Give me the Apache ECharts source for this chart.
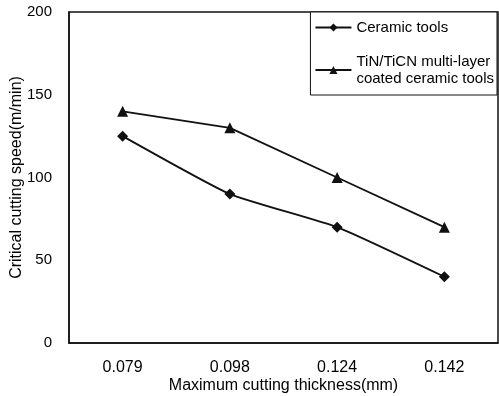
<!DOCTYPE html>
<html>
<head>
<meta charset="utf-8">
<script src="https://cdn.jsdelivr.net/npm/echarts@6/dist/echarts.min.js"></script>
<style>
  html, body { margin: 0; padding: 0; background: #fff; }
  #p1 { width: 499px; height: 396px; }
</style>
</head>
<body>
<div id="p1"></div>
<script>
var categories = ['0.079', '0.098', '0.124', '0.142'];
var ceramic = [125, 90, 70, 40];
var coated = [140, 130, 100, 70];
var yTicks = [0, 50, 100, 150, 200];

var myChart1 = echarts.init(document.getElementById('p1'));
var option1 = {
    backgroundColor: '#fff',
    textStyle: { fontFamily: 'Liberation Sans' },
    grid: {
        left: 69,
        right: 1,
        top: 12,
        bottom: 53,
        outerBoundsMode: 'none',
        show: true,
        borderColor: '#111',
        borderWidth: 1.5
    },
    legend: {
        orient: 'vertical',
        right: 2,
        top: 12,
        padding: [7, 3, 8, 4],
        itemGap: 17,
        itemWidth: 36,
        itemHeight: 10,
        borderColor: '#111',
        borderWidth: 1,
        backgroundColor: '#fff',
        textStyle: { color: '#000', fontSize: 15, lineHeight: 17 },
        data: ['Ceramic tools', 'TiN/TiCN multi-layer\ncoated ceramic tools']
    },
    xAxis: {
        type: 'category',
        data: categories,
        boundaryGap: true,
        name: 'Maximum cutting thickness(mm)',
        nameLocation: 'middle',
        nameGap: 35,
        nameMoveOverlap: false,
        nameTextStyle: { color: '#000', fontSize: 16 },
        axisLine: { lineStyle: { color: '#111', width: 1.5 } },
        axisTick: { show: false },
        axisLabel: { color: '#000', fontSize: 16, margin: 17 },
        splitLine: { show: false }
    },
    yAxis: {
        type: 'value',
        min: yTicks[0],
        max: yTicks[yTicks.length - 1],
        interval: 50,
        name: 'Critical cutting speed(m/min)',
        nameLocation: 'middle',
        nameGap: 44,
        nameMoveOverlap: false,
        nameTextStyle: { color: '#000', fontSize: 16 },
        axisLine: { show: true, lineStyle: { color: '#111', width: 1.5 } },
        axisTick: { show: false },
        axisLabel: { color: '#000', fontSize: 15, margin: 17 },
        splitLine: { show: false }
    },
    series: [
        {
            name: 'Ceramic tools',
            type: 'line',
            data: ceramic,
            symbol: 'diamond',
            symbolSize: 11,
            smooth: 0.15,
            itemStyle: { color: '#111' },
            lineStyle: { color: '#111', width: 1.8 }
        },
        {
            name: 'TiN/TiCN multi-layer\ncoated ceramic tools',
            type: 'line',
            data: coated,
            symbol: 'triangle',
            symbolSize: 11,
            itemStyle: { color: '#111' },
            lineStyle: { color: '#111', width: 1.8 }
        }
    ]
};
myChart1.setOption(option1);
</script>
</body>
</html>
